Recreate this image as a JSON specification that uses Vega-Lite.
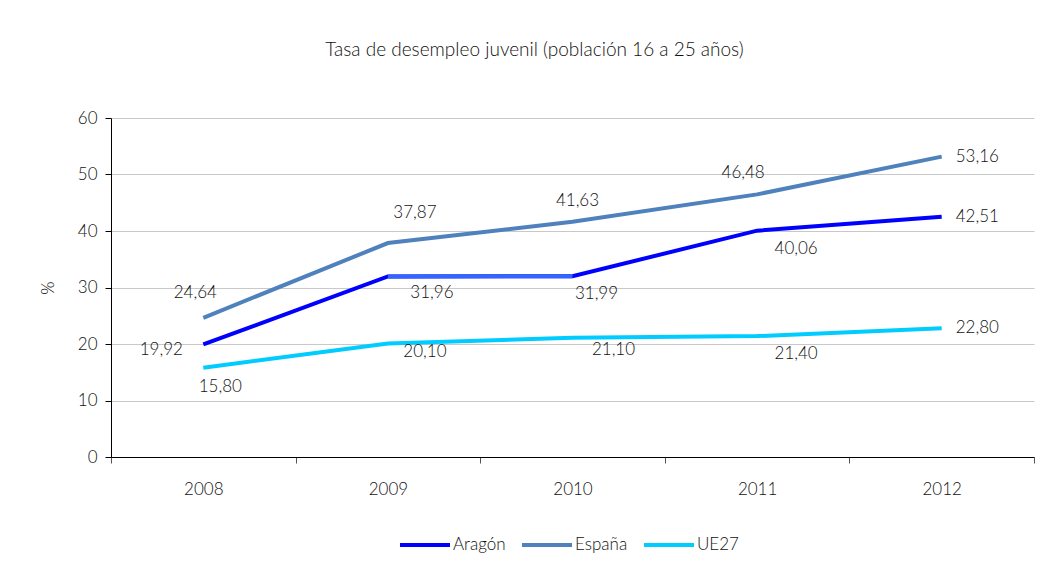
{
  "$schema": "https://vega.github.io/schema/vega-lite/v6.json",
  "autosize": "none",
  "width": 923,
  "height": 339,
  "padding": {"left": 111, "top": 118, "right": 14, "bottom": 108},
  "background": "white",
  "title": {
    "text": "Tasa de desempleo juvenil (población 16 a 25 años)",
    "fontSize": 19,
    "font": "Lato",
    "fontWeight": 300,
    "color": "#111111",
    "anchor": "middle",
    "offset": 49,
    "dx": -38
  },
  "config": {
    "locale": {"number": {"decimal": ",", "thousands": ".", "grouping": [3], "currency": ["", " €"]}},
    "font": "Lato",
    "view": {"stroke": null},
    "axis": {"labelFont": "Lato", "titleFont": "Lato", "labelColor": "#111111", "titleColor": "#111111", "labelFontWeight": 300},
    "legend": {"labelFont": "Lato", "labelFontWeight": 300}
  },
  "data": {
    "values": [
      {"year": "2008", "s": "Aragón", "v": 19.92},
      {"year": "2009", "s": "Aragón", "v": 31.96},
      {"year": "2010", "s": "Aragón", "v": 31.99},
      {"year": "2011", "s": "Aragón", "v": 40.06},
      {"year": "2012", "s": "Aragón", "v": 42.51},
      {"year": "2008", "s": "España", "v": 24.64},
      {"year": "2009", "s": "España", "v": 37.87},
      {"year": "2010", "s": "España", "v": 41.63},
      {"year": "2011", "s": "España", "v": 46.48},
      {"year": "2012", "s": "España", "v": 53.16},
      {"year": "2008", "s": "UE27", "v": 15.80},
      {"year": "2009", "s": "UE27", "v": 20.10},
      {"year": "2010", "s": "UE27", "v": 21.10},
      {"year": "2011", "s": "UE27", "v": 21.40},
      {"year": "2012", "s": "UE27", "v": 22.80}
    ]
  },
  "encoding": {
    "x": {
      "field": "year", "type": "ordinal",
      "scale": {"paddingInner": 0, "paddingOuter": 0},
      "axis": {
        "title": null, "labelAngle": 0, "labelFontSize": 17, "labelPadding": 18,
        "tickBand": "extent", "domainColor": "#000000", "tickColor": "#555555",
        "tickSize": 6, "grid": false
      }
    },
    "y": {
      "field": "v", "type": "quantitative",
      "scale": {"domain": [0, 60], "nice": false},
      "axis": {
        "title": "%", "titleFontSize": 17, "titleFontWeight": 300, "titlePadding": 20,
        "values": [0, 10, 20, 30, 40, 50, 60], "labelFontSize": 17, "labelPadding": 8,
        "tickSize": 6, "domainColor": "#000000", "tickColor": "#000000",
        "gridColor": "#c8c8c8", "gridWidth": 1
      }
    }
  },
  "layer": [
    {
      "mark": {"type": "line", "strokeWidth": 4},
      "encoding": {
        "color": {
          "field": "s", "type": "nominal",
          "scale": {"domain": ["Aragón", "España", "UE27"], "range": ["#0000ff", "#4f81bd", "#00ccff"]},
          "legend": {
            "title": null, "orient": "none", "legendX": 287, "legendY": 400,
            "direction": "horizontal", "symbolType": "stroke", "symbolSize": 2500,
            "symbolStrokeWidth": 4, "labelFontSize": 17, "labelColor": "#111111",
            "labelOffset": 1, "columnPadding": 8
          }
        }
      }
    },
    {
      "transform": [{"filter": "datum.s == 'Aragón' && (datum.year == '2009' || datum.year == '2010')"}],
      "mark": {"type": "line", "strokeWidth": 4, "color": "#3366ff"},
      "encoding": {}
    },
    {
      "transform": [{"filter": "datum.year == '2012'"}],
      "mark": {"type": "text", "align": "left", "baseline": "middle", "dx": 14, "dy": 0, "fontSize": 17, "fontWeight": 300, "color": "#111111"},
      "encoding": {"text": {"field": "v", "type": "quantitative", "format": ".2f"}}
    },
    {
      "transform": [{"filter": "datum.s == 'España' && datum.year == '2008'"}],
      "mark": {"type": "text", "baseline": "middle", "dx": -8, "dy": -25, "fontSize": 17, "fontWeight": 300, "color": "#111111"},
      "encoding": {"text": {"field": "v", "type": "quantitative", "format": ".2f"}}
    },
    {
      "transform": [{"filter": "datum.s == 'España' && datum.year == '2009'"}],
      "mark": {"type": "text", "baseline": "middle", "dx": 27, "dy": -30, "fontSize": 17, "fontWeight": 300, "color": "#111111"},
      "encoding": {"text": {"field": "v", "type": "quantitative", "format": ".2f"}}
    },
    {
      "transform": [{"filter": "datum.s == 'España' && datum.year == '2010'"}],
      "mark": {"type": "text", "baseline": "middle", "dx": 5, "dy": -21, "fontSize": 17, "fontWeight": 300, "color": "#111111"},
      "encoding": {"text": {"field": "v", "type": "quantitative", "format": ".2f"}}
    },
    {
      "transform": [{"filter": "datum.s == 'España' && datum.year == '2011'"}],
      "mark": {"type": "text", "baseline": "middle", "dx": -14, "dy": -21, "fontSize": 17, "fontWeight": 300, "color": "#111111"},
      "encoding": {"text": {"field": "v", "type": "quantitative", "format": ".2f"}}
    },
    {
      "transform": [{"filter": "datum.s == 'Aragón' && datum.year == '2008'"}],
      "mark": {"type": "text", "baseline": "middle", "dx": -42, "dy": 6, "fontSize": 17, "fontWeight": 300, "color": "#111111"},
      "encoding": {"text": {"field": "v", "type": "quantitative", "format": ".2f"}}
    },
    {
      "transform": [{"filter": "datum.s == 'Aragón' && datum.year == '2009'"}],
      "mark": {"type": "text", "baseline": "middle", "dx": 44, "dy": 17, "fontSize": 17, "fontWeight": 300, "color": "#111111"},
      "encoding": {"text": {"field": "v", "type": "quantitative", "format": ".2f"}}
    },
    {
      "transform": [{"filter": "datum.s == 'Aragón' && datum.year == '2010'"}],
      "mark": {"type": "text", "baseline": "middle", "dx": 24, "dy": 18, "fontSize": 17, "fontWeight": 300, "color": "#111111"},
      "encoding": {"text": {"field": "v", "type": "quantitative", "format": ".2f"}}
    },
    {
      "transform": [{"filter": "(datum.s == 'Aragón' || datum.s == 'UE27') && datum.year == '2011'"}],
      "mark": {"type": "text", "baseline": "middle", "dx": 39, "dy": 18, "fontSize": 17, "fontWeight": 300, "color": "#111111"},
      "encoding": {"text": {"field": "v", "type": "quantitative", "format": ".2f"}}
    },
    {
      "transform": [{"filter": "datum.s == 'UE27' && datum.year == '2008'"}],
      "mark": {"type": "text", "baseline": "middle", "dx": 17, "dy": 19, "fontSize": 17, "fontWeight": 300, "color": "#111111"},
      "encoding": {"text": {"field": "v", "type": "quantitative", "format": ".2f"}}
    },
    {
      "transform": [{"filter": "datum.s == 'UE27' && datum.year == '2009'"}],
      "mark": {"type": "text", "baseline": "middle", "dx": 37, "dy": 9, "fontSize": 17, "fontWeight": 300, "color": "#111111"},
      "encoding": {"text": {"field": "v", "type": "quantitative", "format": ".2f"}}
    },
    {
      "transform": [{"filter": "datum.s == 'UE27' && datum.year == '2010'"}],
      "mark": {"type": "text", "baseline": "middle", "dx": 41, "dy": 12, "fontSize": 17, "fontWeight": 300, "color": "#111111"},
      "encoding": {"text": {"field": "v", "type": "quantitative", "format": ".2f"}}
    }
  ]
}
